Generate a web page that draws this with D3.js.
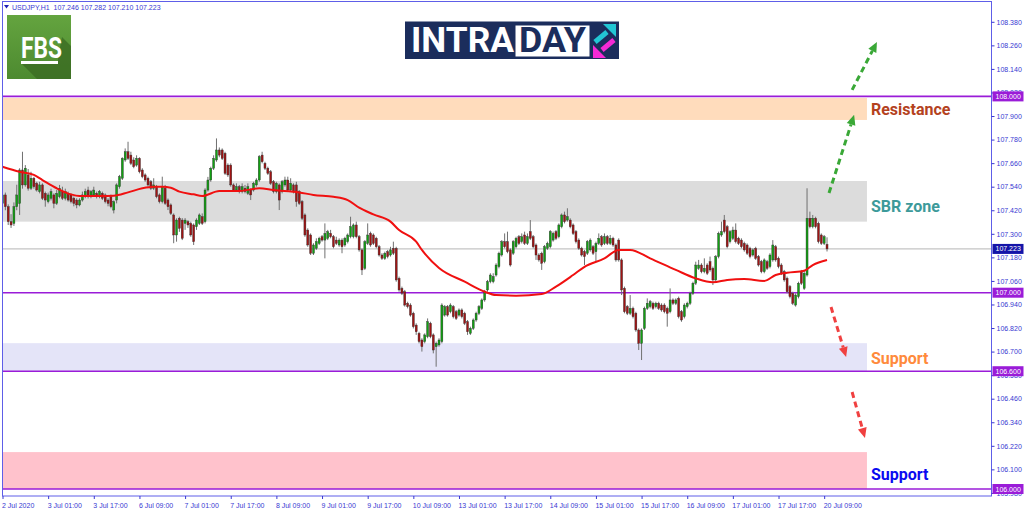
<!DOCTYPE html>
<html>
<head>
<meta charset="utf-8">
<script src="https://cdn.jsdelivr.net/npm/d3@7"></script>
<style>
  body { margin: 0; background: #fff; }
  svg { display: block; }
</style>
</head>
<body>
<svg id="chart" width="1024" height="511"></svg>
<script>
// ---- data ----
const symbol = 'USDJPY,H1';
const lastQuote = [107.246, 107.282, 107.210, 107.223];

// hourly candles [open, high, low, close], 2 Jul 09:00 .. 20 Jul 10:00
const candles = [
  [107.455,107.549,107.438,107.498],[107.498,107.510,107.420,107.438],[107.438,107.450,107.345,107.362],[107.362,107.400,107.330,107.345],
  [107.353,107.460,107.340,107.438],[107.438,107.550,107.420,107.498],[107.455,107.634,107.396,107.625],[107.625,107.718,107.530,107.549],
  [107.549,107.650,107.540,107.634],[107.600,107.630,107.520,107.532],[107.532,107.616,107.523,107.583],[107.583,107.590,107.530,107.540],
  [107.557,107.565,107.515,107.523],[107.515,107.565,107.506,107.549],[107.549,107.557,107.472,107.481],[107.506,107.515,107.438,107.472],
  [107.464,107.510,107.455,107.498],[107.481,107.530,107.470,107.515],[107.498,107.506,107.430,107.455],[107.455,107.523,107.447,107.506],
  [107.489,107.549,107.481,107.532],[107.515,107.540,107.472,107.481],[107.481,107.530,107.470,107.515],[107.506,107.515,107.464,107.472],
  [107.498,107.506,107.455,107.464],[107.481,107.490,107.440,107.455],[107.472,107.481,107.430,107.447],[107.447,107.481,107.440,107.472],
  [107.472,107.515,107.464,107.498],[107.489,107.530,107.481,107.515],[107.523,107.540,107.480,107.489],[107.489,107.523,107.481,107.515],
  [107.498,107.540,107.490,107.523],[107.506,107.515,107.480,107.489],[107.489,107.523,107.481,107.515],[107.506,107.515,107.472,107.481],
  [107.498,107.506,107.455,107.464],[107.472,107.481,107.440,107.455],[107.489,107.500,107.430,107.438],[107.421,107.470,107.404,107.464],
  [107.472,107.557,107.455,107.549],[107.540,107.600,107.530,107.591],[107.583,107.690,107.574,107.684],[107.676,107.735,107.667,107.718],
  [107.718,107.769,107.676,107.684],[107.701,107.718,107.650,107.659],[107.676,107.690,107.634,107.642],[107.650,107.700,107.642,107.684],
  [107.684,107.690,107.608,107.616],[107.625,107.634,107.583,107.591],[107.600,107.608,107.565,107.574],[107.583,107.591,107.540,107.549],
  [107.565,107.574,107.523,107.532],[107.532,107.583,107.523,107.549],[107.540,107.549,107.481,107.489],[107.498,107.506,107.455,107.464],
  [107.464,107.591,107.455,107.540],[107.532,107.549,107.447,107.455],[107.472,107.480,107.421,107.438],[107.447,107.455,107.396,107.404],
  [107.396,107.404,107.252,107.294],[107.294,107.379,107.260,107.370],[107.379,107.387,107.310,107.328],[107.370,107.380,107.268,107.277],
  [107.353,107.380,107.320,107.370],[107.362,107.370,107.330,107.345],[107.353,107.362,107.285,107.294],[107.345,107.353,107.243,107.260],
  [107.336,107.379,107.320,107.370],[107.353,107.404,107.345,107.396],[107.387,107.404,107.345,107.353],[107.362,107.532,107.353,107.523],
  [107.523,107.590,107.515,107.574],[107.574,107.642,107.565,107.634],[107.634,107.700,107.625,107.684],[107.676,107.786,107.667,107.727],
  [107.727,107.740,107.690,107.701],[107.727,107.735,107.676,107.684],[107.710,107.718,107.600,107.608],[107.650,107.659,107.590,107.600],
  [107.650,107.659,107.540,107.549],[107.549,107.557,107.515,107.523],[107.523,107.557,107.515,107.540],[107.540,107.549,107.506,107.515],
  [107.515,107.557,107.506,107.540],[107.532,107.549,107.506,107.515],[107.506,107.557,107.498,107.540],[107.523,107.532,107.472,107.498],
  [107.523,107.565,107.515,107.557],[107.549,107.583,107.540,107.574],[107.574,107.701,107.565,107.693],[107.701,107.718,107.659,107.667],
  [107.659,107.667,107.625,107.634],[107.634,107.642,107.600,107.608],[107.616,107.625,107.549,107.557],[107.565,107.574,107.506,107.515],
  [107.515,107.565,107.506,107.557],[107.549,107.557,107.421,107.472],[107.515,107.574,107.506,107.565],[107.549,107.591,107.540,107.574],
  [107.574,107.591,107.515,107.523],[107.523,107.583,107.515,107.557],[107.549,107.557,107.506,107.515],[107.549,107.565,107.438,107.464],
  [107.515,107.523,107.447,107.455],[107.464,107.472,107.370,107.379],[107.396,107.404,107.285,107.294],[107.319,107.328,107.234,107.243],
  [107.294,107.302,107.192,107.201],[107.201,107.252,107.192,107.243],[107.226,107.277,107.218,107.260],[107.251,107.285,107.243,107.277],
  [107.285,107.294,107.260,107.268],[107.268,107.353,107.175,107.302],[107.277,107.320,107.268,107.311],[107.302,107.320,107.277,107.285],
  [107.285,107.294,107.226,107.234],[107.268,107.285,107.243,107.251],[107.243,107.277,107.234,107.268],[107.268,107.277,107.201,107.234],
  [107.243,107.285,107.234,107.277],[107.260,107.302,107.251,107.294],[107.285,107.387,107.277,107.336],[107.285,107.353,107.277,107.345],
  [107.345,107.362,107.277,107.285],[107.285,107.294,107.209,107.218],[107.218,107.226,107.090,107.116],[107.124,107.268,107.116,107.260],
  [107.251,107.353,107.243,107.294],[107.302,107.311,107.234,107.243],[107.294,107.302,107.243,107.251],[107.277,107.285,107.226,107.234],
  [107.234,107.243,107.184,107.192],[107.192,107.201,107.167,107.175],[107.175,107.209,107.167,107.201],[107.209,107.218,107.175,107.184],
  [107.192,107.234,107.184,107.218],[107.226,107.260,107.192,107.201],[107.226,107.234,107.056,107.065],[107.073,107.082,107.005,107.014],
  [107.022,107.031,106.988,106.997],[107.005,107.014,106.929,106.937],[106.946,106.954,106.920,106.929],[106.937,106.946,106.878,106.886],
  [106.895,106.903,106.818,106.827],[106.835,106.844,106.785,106.801],[106.793,106.801,106.742,106.751],[106.759,106.768,106.700,106.725],
  [106.751,106.793,106.742,106.785],[106.776,106.869,106.768,106.852],[106.844,106.852,106.768,106.776],[106.785,106.793,106.691,106.708],
  [106.725,106.751,106.623,106.742],[106.734,106.768,106.725,106.759],[106.751,106.946,106.742,106.937],[106.886,106.937,106.878,106.929],
  [106.929,106.937,106.878,106.886],[106.903,106.946,106.895,106.937],[106.929,106.937,106.869,106.878],[106.903,106.912,106.861,106.869],
  [106.886,106.920,106.878,106.912],[106.912,106.920,106.869,106.878],[106.895,106.903,106.835,106.844],[106.852,106.861,106.785,106.801],
  [106.793,106.827,106.785,106.818],[106.818,106.869,106.810,106.861],[106.861,106.903,106.852,106.895],[106.895,106.937,106.886,106.929],
  [106.920,106.971,106.912,106.963],[106.963,107.014,106.954,107.005],[107.014,107.065,107.005,107.056],[107.056,107.099,107.048,107.090],
  [107.056,107.099,107.048,107.082],[107.090,107.150,107.082,107.141],[107.133,107.209,107.124,107.201],[107.192,107.268,107.184,107.260],
  [107.260,107.302,107.226,107.234],[107.260,107.311,107.201,107.209],[107.218,107.226,107.133,107.141],[107.201,107.268,107.192,107.260],
  [107.234,107.285,107.226,107.277],[107.285,107.294,107.243,107.251],[107.260,107.302,107.251,107.285],[107.294,107.311,107.243,107.251],
  [107.251,107.302,107.243,107.285],[107.311,107.370,107.268,107.277],[107.285,107.294,107.226,107.234],[107.243,107.251,107.167,107.192],
  [107.192,107.201,107.158,107.167],[107.201,107.209,107.116,107.150],[107.158,107.243,107.150,107.234],[107.226,107.260,107.218,107.251],
  [107.234,107.319,107.226,107.311],[107.268,107.311,107.260,107.302],[107.311,107.319,107.268,107.277],[107.285,107.353,107.277,107.345],
  [107.336,107.404,107.328,107.396],[107.396,107.413,107.353,107.362],[107.370,107.430,107.362,107.387],[107.370,107.379,107.328,107.336],
  [107.345,107.353,107.294,107.302],[107.311,107.319,107.251,107.260],[107.268,107.277,107.218,107.226],[107.226,107.234,107.184,107.192],
  [107.209,107.218,107.141,107.184],[107.201,107.268,107.192,107.260],[107.218,107.277,107.209,107.268],[107.234,107.243,107.192,107.201],
  [107.209,107.260,107.158,107.251],[107.251,107.302,107.243,107.277],[107.285,107.294,107.234,107.243],[107.251,107.302,107.243,107.285],
  [107.285,107.294,107.243,107.251],[107.251,107.294,107.243,107.277],[107.277,107.285,107.234,107.243],[107.243,107.251,107.158,107.167],
  [107.268,107.277,107.158,107.167],[107.167,107.175,106.988,107.014],[107.022,107.031,106.895,106.903],[106.929,106.937,106.886,106.895],
  [106.895,106.988,106.886,106.920],[106.920,106.929,106.869,106.878],[106.895,106.903,106.801,106.810],[106.810,106.818,106.708,106.742],
  [106.742,106.818,106.657,106.810],[106.818,106.929,106.810,106.920],[106.920,106.971,106.912,106.946],[106.929,106.963,106.920,106.954],
  [106.946,106.954,106.912,106.920],[106.929,106.954,106.920,106.946],[106.946,106.954,106.912,106.920],[106.937,106.946,106.903,106.912],
  [106.937,106.946,106.895,106.903],[106.920,106.929,106.827,106.895],[106.903,107.022,106.895,106.963],[106.963,106.971,106.937,106.946],
  [106.946,106.971,106.937,106.963],[106.971,106.980,106.869,106.878],[106.903,106.912,106.852,106.861],[106.878,106.946,106.869,106.937],
  [106.929,106.954,106.920,106.946],[106.946,107.005,106.937,106.997],[106.997,107.056,106.988,107.048],[107.048,107.158,107.039,107.141],
  [107.124,107.167,107.116,107.141],[107.141,107.150,107.099,107.107],[107.107,107.175,107.099,107.124],[107.141,107.150,107.090,107.099],
  [107.158,107.184,107.107,107.116],[107.124,107.133,107.039,107.065],[107.065,107.192,107.056,107.184],[107.184,107.311,107.175,107.302],
  [107.294,107.362,107.285,107.311],[107.370,107.396,107.302,107.311],[107.336,107.345,107.226,107.234],[107.260,107.319,107.251,107.311],
  [107.277,107.336,107.268,107.319],[107.319,107.353,107.251,107.260],[107.277,107.285,107.243,107.251],[107.268,107.277,107.226,107.234],
  [107.251,107.260,107.209,107.218],[107.243,107.251,107.192,107.201],[107.226,107.234,107.175,107.184],[107.192,107.226,107.184,107.218],
  [107.226,107.234,107.167,107.175],[107.184,107.192,107.133,107.141],[107.158,107.167,107.099,107.107],[107.107,107.175,107.099,107.167],
  [107.158,107.167,107.116,107.124],[107.133,107.201,107.124,107.192],[107.167,107.268,107.158,107.243],[107.234,107.243,107.158,107.167],
  [107.175,107.184,107.124,107.133],[107.141,107.150,107.090,107.099],[107.107,107.116,107.056,107.065],[107.073,107.082,106.997,107.005],
  [107.031,107.039,106.971,106.980],[106.997,107.005,106.937,106.946],[106.937,106.997,106.929,106.988],[106.980,107.056,106.971,107.048],
  [107.107,107.116,107.039,107.048],[107.022,107.116,107.014,107.099],[107.090,107.532,107.082,107.379],[107.379,107.413,107.328,107.336],
  [107.336,107.396,107.328,107.379],[107.379,107.387,107.328,107.336],[107.353,107.362,107.251,107.260],[107.294,107.302,107.243,107.251],
  [107.251,107.294,107.243,107.285],[107.246,107.282,107.210,107.223]
];

// red moving average, [bar index, price]
const maPoints = [
  [0,107.642],[6,107.616],[11,107.600],[14,107.574],[19,107.532],[24,107.501],[27,107.493],[34,107.493],[39,107.494],
  [44,107.511],[49,107.532],[53,107.540],[56,107.540],[59,107.535],[62,107.515],[67,107.501],[70,107.493],[76,107.518],
  [83,107.518],[90,107.532],[95,107.523],[104,107.511],[109,107.498],[116,107.489],[121,107.472],[125,107.433],[130,107.399],
  [136,107.362],[139,107.319],[145,107.260],[147,107.218],[153,107.126],[162,107.056],[169,107.005],[173,106.988],[180,106.985],
  [189,106.993],[194,107.031],[200,107.090],[204,107.132],[211,107.175],[216,107.218],[220,107.218],[227,107.175],[236,107.116],
  [243,107.073],[249,107.053],[254,107.065],[260,107.070],[267,107.060],[271,107.090],[275,107.102],[281,107.112],[284,107.141],
  [289,107.167]
];

// one time label every 16 bars
const timeLabels = ['2 Jul 2020','3 Jul 01:00','3 Jul 17:00','6 Jul 09:00','7 Jul 01:00','7 Jul 17:00','8 Jul 09:00',
  '9 Jul 01:00','9 Jul 17:00','10 Jul 09:00','13 Jul 01:00','13 Jul 17:00','14 Jul 09:00','15 Jul 01:00',
  '15 Jul 17:00','16 Jul 09:00','17 Jul 01:00','17 Jul 17:00','20 Jul 09:00'];

const priceTicks = [105.980,106.100,106.220,106.340,106.460,106.580,106.700,106.820,106.940,107.060,107.180,
  107.300,107.420,107.540,107.660,107.780,107.900,108.020,108.140,108.260,108.380];

const levels = [108.000, 107.000, 106.600, 106.000];

const zoneNames = ['Resistance', 'SBR zone', 'Support', 'Support'];
const zoneLow   = [107.880, 107.362, 106.600, 106.000];
const zoneHigh  = [107.992, 107.569, 106.743, 106.188];
const zoneEnd = 303;   // bar index where the boxes stop

// dashed arrows, [bar, price] tail -> tip
const arrowFrom = [[289.7,107.508],[297.8,108.033],[290.4,106.927],[297.8,106.494]];
const arrowTo   = [[298.5,107.906],[306.5,108.277],[295.7,106.672],[302.3,106.260]];

// ---- styles ----
const zoneFill  = ['#ffdcbc', '#dcdcdc', '#e4e4f8', '#ffc2cc'];
const zoneText  = ['#b4421e', '#3d9a9a', '#ff8a3c', '#0a0af0'];
const arrowCol  = ['#3aa837', '#3aa837', '#f04040', '#f04040'];
const axisBlue = '#3838d2';
const frameCol = '#5e5ee8';
const levelCol = '#9a1cd8';

const svg = d3.select('#chart');
const plotL = 2, plotR = 991.5, plotT = 1.5, plotB = 496;

let x = d3.scaleLinear()
          .domain([0, candles.length - 1])
          .range([2.5, 2.5 + (candles.length - 1) * 2.853]);
let y = d3.scaleLinear()
          .domain([106, 108])
          .range([489, 96.4]);

const defs = svg.append('defs');
defs.append('clipPath')
    .attr('id', 'plotClip')
    .append('rect')
    .attr('x', plotL).attr('y', plotT)
    .attr('width', plotR - plotL).attr('height', plotB - plotT);

const plot = svg.append('g').attr('clip-path', 'url(#plotClip)');

// zones
zoneNames.forEach(function(name, i){
  plot.append('rect')
      .attr('x', plotL)
      .attr('y', y(zoneHigh[i]))
      .attr('width', x(zoneEnd) - plotL)
      .attr('height', y(zoneLow[i]) - y(zoneHigh[i]))
      .attr('fill', zoneFill[i]);
});

// current price line
plot.append('line')
    .attr('x1', plotL).attr('x2', plotR)
    .attr('y1', y(lastQuote[3])).attr('y2', y(lastQuote[3]))
    .attr('stroke', '#c4c4c4').attr('stroke-width', 1.2);

// horizontal levels
levels.forEach(function(lv){
  plot.append('line')
      .attr('x1', plotL).attr('x2', plotR)
      .attr('y1', y(lv)).attr('y2', y(lv))
      .attr('stroke', levelCol).attr('stroke-width', 1.6);
});

// candles
plot.selectAll('.wick')
    .data(candles)
    .enter()
    .append('line')
    .attr('class', 'wick')
    .attr('x1', function(d, i){ return x(i); })
    .attr('x2', function(d, i){ return x(i); })
    .attr('y1', function(d){ return y(d[1]); })
    .attr('y2', function(d){ return y(d[2]); })
    .attr('stroke', '#707070')
    .attr('stroke-width', 1);

plot.selectAll('.body')
    .data(candles)
    .enter()
    .append('rect')
    .attr('class', 'body')
    .attr('x', function(d, i){ return x(i) - 1; })
    .attr('width', 2)
    .attr('y', function(d){ return y(Math.max(d[0], d[3])); })
    .attr('height', function(d){ return Math.max(1, Math.abs(y(d[0]) - y(d[3]))); })
    .attr('fill', function(d){ return d[3] >= d[0] ? '#12a012' : '#a01414'; })
    .attr('stroke', '#2e2e2e')
    .attr('stroke-width', 0.4);

// moving average
let maLine = d3.line()
               .x(function(d){ return x(d[0]); })
               .y(function(d){ return y(d[1]); })
               .curve(d3.curveMonotoneX);
plot.append('path')
    .attr('d', maLine(maPoints))
    .attr('fill', 'none')
    .attr('stroke', '#f01010')
    .attr('stroke-width', 2);

// arrows
arrowFrom.forEach(function(a, i){
  let x1 = x(a[0]), y1 = y(a[1]);
  let x2 = x(arrowTo[i][0]), y2 = y(arrowTo[i][1]);
  let ang = Math.atan2(y2 - y1, x2 - x1);
  let hl = 10, hw = 4.5;
  let bx = x2 - hl * Math.cos(ang), by = y2 - hl * Math.sin(ang);
  plot.append('line')
      .attr('x1', x1).attr('y1', y1)
      .attr('x2', bx).attr('y2', by)
      .attr('stroke', arrowCol[i])
      .attr('stroke-width', 3)
      .attr('stroke-dasharray', '6,4');
  let px = -Math.sin(ang), py = Math.cos(ang);
  plot.append('path')
      .attr('d', 'M' + x2 + ',' + y2 +
                 'L' + (bx + hw * px) + ',' + (by + hw * py) +
                 'L' + (bx - hw * px) + ',' + (by - hw * py) + 'Z')
      .attr('fill', arrowCol[i]);
});

// zone labels
const labelShift = [1, 5, 1, 4];
zoneNames.forEach(function(name, i){
  svg.append('text')
     .attr('x', x(zoneEnd) + 4)
     .attr('y', (y(zoneHigh[i]) + y(zoneLow[i])) / 2 + labelShift[i])
     .attr('dominant-baseline', 'central')
     .attr('font-family', 'Roboto, "Open Sans", sans-serif')
     .attr('font-weight', 'bold')
     .attr('font-size', '16px')
     .attr('fill', zoneText[i])
     .text(name);
});

// frame
svg.append('rect')
   .attr('x', plotL + 0.5).attr('y', plotT)
   .attr('width', plotR - plotL - 0.5).attr('height', plotB - plotT)
   .attr('fill', 'none')
   .attr('stroke', frameCol)
   .attr('stroke-width', 1);

// price axis
let yAxis = d3.axisRight(y)
              .tickValues(priceTicks)
              .tickSize(3)
              .tickPadding(2)
              .tickFormat(d3.format('.3f'));
let yg = svg.append('g')
            .attr('transform', 'translate(' + plotR + ',0)')
            .call(yAxis);
yg.select('.domain').remove();
yg.selectAll('line').attr('stroke', axisBlue);
yg.selectAll('text')
  .attr('fill', axisBlue)
  .attr('font-family', '"Liberation Sans", Arial, sans-serif')
  .attr('font-size', '7px');

// time axis
let xAxis = d3.axisBottom(x)
              .tickValues(timeLabels.map(function(t, i){ return i * 16; }))
              .tickSize(3)
              .tickFormat(function(d, i){ return timeLabels[i]; });
let xg = svg.append('g')
            .attr('transform', 'translate(0,' + plotB + ')')
            .call(xAxis);
xg.select('.domain').remove();
xg.selectAll('line').attr('stroke', axisBlue);
xg.selectAll('text')
  .attr('fill', axisBlue)
  .attr('text-anchor', 'start')
  .attr('dx', '-1')
  .attr('dy', '0.9em')
  .attr('font-family', '"Liberation Sans", Arial, sans-serif')
  .attr('font-size', '7px');

// price boxes on the axis
function priceBox(p, fill){
  svg.append('rect')
     .attr('x', plotR + 1).attr('y', y(p) - 5)
     .attr('width', 31).attr('height', 10)
     .attr('fill', fill);
  svg.append('text')
     .attr('x', plotR + 4).attr('y', y(p))
     .attr('dominant-baseline', 'central')
     .attr('fill', '#fff')
     .attr('font-family', '"Liberation Sans", Arial, sans-serif')
     .attr('font-size', '7px')
     .text(d3.format('.3f')(p));
}
levels.forEach(function(lv){ priceBox(lv, levelCol); });
priceBox(lastQuote[3], '#1414a8');

// header
svg.append('path')
   .attr('d', 'M4,5 L9,5 L6.5,8.5 Z')
   .attr('fill', '#2020b8');
svg.append('text')
   .attr('x', 12).attr('y', 10)
   .attr('fill', axisBlue)
   .attr('font-family', '"Liberation Sans", Arial, sans-serif')
   .attr('font-size', '7px')
   .attr('xml:space', 'preserve')
   .text(symbol + '  ' + lastQuote.map(d3.format('.3f')).join(' '));

// FBS logo
let grad = defs.append('linearGradient')
               .attr('id', 'fbsGrad').attr('x1', 0).attr('y1', 0).attr('x2', 0).attr('y2', 1);
grad.append('stop').attr('offset', '0%').attr('stop-color', '#64a43f');
grad.append('stop').attr('offset', '100%').attr('stop-color', '#4d8a30');
svg.append('rect')
   .attr('x', 7).attr('y', 15).attr('width', 64).attr('height', 64)
   .attr('fill', 'url(#fbsGrad)');
svg.append('path')
   .attr('d', 'M62,37 L71,46 L71,79 L37,79 L22,64 L58,64 L58,58 Z')
   .attr('fill', '#3a6a22').attr('opacity', 0.75);
svg.append('text')
   .attr('x', 21).attr('y', 58)
   .attr('fill', '#fff')
   .attr('font-family', 'Roboto, "Open Sans", sans-serif')
   .attr('font-weight', 'bold')
   .attr('font-size', '29px')
   .attr('textLength', 41)
   .attr('lengthAdjust', 'spacingAndGlyphs')
   .text('FBS');
svg.append('rect')
   .attr('x', 21).attr('y', 61).attr('width', 37).attr('height', 3)
   .attr('fill', '#fff');

// INTRADAY logo
svg.append('rect')
   .attr('x', 405).attr('y', 21.5).attr('width', 214).attr('height', 37.5)
   .attr('fill', '#1b2d5c');
svg.append('text')
   .attr('x', 411).attr('y', 52)
   .attr('fill', '#fff')
   .attr('font-family', 'Roboto, "Open Sans", sans-serif')
   .attr('font-weight', 'bold')
   .attr('font-size', '35px')
   .attr('textLength', 103)
   .attr('lengthAdjust', 'spacingAndGlyphs')
   .text('INTRA');
svg.append('rect')
   .attr('x', 515.5).attr('y', 25.5).attr('width', 74).attr('height', 31)
   .attr('fill', '#fff');
svg.append('text')
   .attr('x', 519).attr('y', 52)
   .attr('fill', '#1b2d5c')
   .attr('font-family', 'Roboto, "Open Sans", sans-serif')
   .attr('font-weight', 'bold')
   .attr('font-size', '35px')
   .attr('textLength', 67)
   .attr('lengthAdjust', 'spacingAndGlyphs')
   .text('DAY');
svg.append('line')
   .attr('x1', 595).attr('y1', 42).attr('x2', 607).attr('y2', 32)
   .attr('stroke', '#22c6d4').attr('stroke-width', 5);
svg.append('path')
   .attr('d', 'M616,24 L616,37 L603,24 Z')
   .attr('fill', '#22c6d4');
svg.append('line')
   .attr('x1', 614).attr('y1', 40).attr('x2', 602).attr('y2', 50)
   .attr('stroke', '#f52ad6').attr('stroke-width', 5);
svg.append('path')
   .attr('d', 'M593,58 L593,45 L606,58 Z')
   .attr('fill', '#f52ad6');
</script>
</body>
</html>
